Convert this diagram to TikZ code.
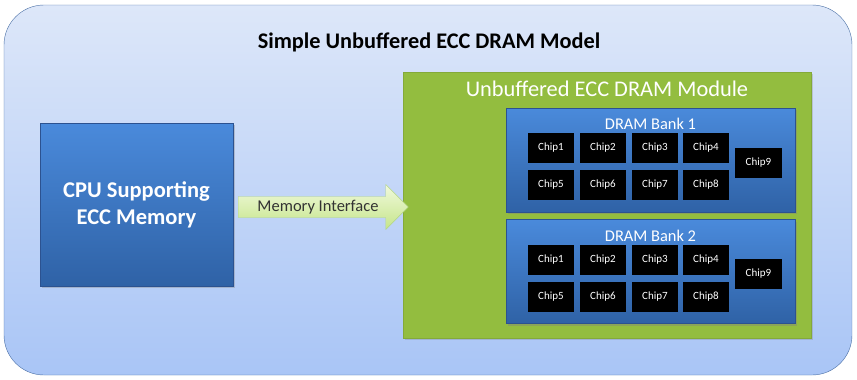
\documentclass[tikz,border=0pt]{standalone}
\usepackage{fontspec}
\setmainfont{Carlito}
\usetikzlibrary{positioning,shapes.arrows,shadows}

\definecolor{paneltop}{HTML}{DDE7F9}
\definecolor{panelbottom}{HTML}{A9C5F6}
\definecolor{panelline}{HTML}{4A6FA5}
\definecolor{bluetop}{HTML}{4A8ADB}
\definecolor{bluebottom}{HTML}{2F62A6}
\definecolor{blueline}{HTML}{2C5290}
\definecolor{modgreen}{HTML}{93BD3F}
\definecolor{arrowtop}{HTML}{F1F9DC}
\definecolor{arrowbottom}{HTML}{C4E58A}
\definecolor{arrowline}{HTML}{B3D685}

\tikzset{
    panel/.style={rectangle, rounded corners=40pt, draw=panelline, thin,
        top color=paneltop, bottom color=panelbottom},
    cpubox/.style={rectangle, draw=blueline, very thin, top color=bluetop,
        bottom color=bluebottom, text=white, font=\bfseries\fontsize{22.5}{27}\selectfont,
        align=center, drop shadow={opacity=0.35, shadow xshift=2pt, shadow yshift=-2pt}},
    modbox/.style={rectangle, fill=modgreen, draw=modgreen!90!black, very thin,
        drop shadow={opacity=0.3, shadow xshift=2pt, shadow yshift=-2pt}},
    bankbox/.style={rectangle, draw=blueline, very thin, top color=bluetop,
        bottom color=bluebottom,
        drop shadow={opacity=0.4, shadow xshift=2pt, shadow yshift=-2pt}},
    chipbox/.style={rectangle, fill=black, text=white, minimum width=46pt,
        minimum height=30pt, inner sep=0pt, font=\fontsize{11}{13}\selectfont},
    iface/.style={single arrow, draw=arrowline, top color=arrowtop,
        bottom color=arrowbottom, minimum width=45pt, minimum height=170pt,
        single arrow head extend=10.5pt, inner sep=2pt, text=black!80,
        font=\fontsize{16.5}{18}\selectfont}
}

\begin{document}
\begin{tikzpicture}[x=1pt, y=-1pt]
    \useasboundingbox (0, 0) rectangle (857, 380);

    % draw outer panel and title
    \node[panel, minimum width=848pt, minimum height=370pt] (model) at (428, 190) {};
    \node[font=\bfseries\fontsize{22.3}{26}\selectfont] (title) at (429, 42)
        {Simple Unbuffered ECC DRAM Model};

    % draw cpu
    \node[cpubox, minimum width=193pt, minimum height=163pt] (cpu) at (136.5, 204.5)
        {CPU Supporting\\ECC Memory};

    % draw module
    \node[modbox, minimum width=408pt, minimum height=266pt] (module) at (607, 205) {};
    \node[text=white, font=\fontsize{22.4}{26}\selectfont] (modtitle) at (607, 89)
        {Unbuffered ECC DRAM Module};

    % draw interface arrow
    \node[iface] (memif) at (318, 207) {Memory Interface};

    % draw banks with their chips
    \foreach \b/\y in {1/160, 2/271.5} {
        \node[bankbox, minimum width=289pt, minimum height=104pt] (bank\b) at (650.5, \y) {};
        \node[text=white, font=\fontsize{16.4}{19}\selectfont] (bank\b label) at (650.5, \y-36)
            {DRAM Bank \b};
        \foreach \c/\dx in {1/-99.5, 2/-47.5, 3/4.5, 4/55.5} {
            \node[chipbox] (chip\b-\c) at (650.5+\dx, \y-12) {Chip\c};
        }
        \foreach \c/\dx in {5/-99.5, 6/-47.5, 7/4.5, 8/55.5} {
            \node[chipbox] (chip\b-\c) at (650.5+\dx, \y+25) {Chip\c};
        }
        \node[chipbox, minimum width=47pt] (chip\b-9) at (758.5, \y+2.5) {Chip9};
    }
\end{tikzpicture}
\end{document}
